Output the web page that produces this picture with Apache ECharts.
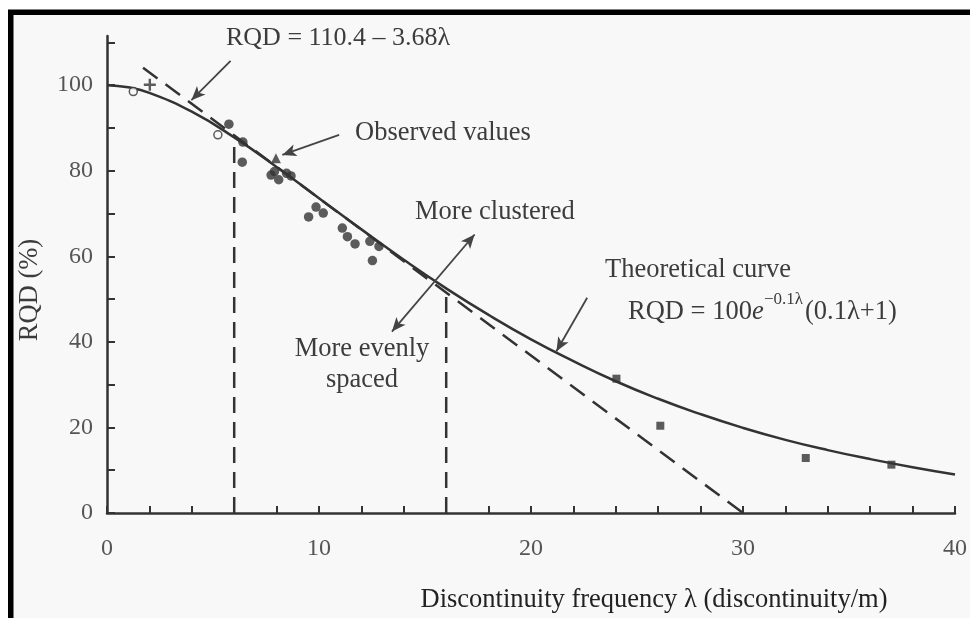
<!DOCTYPE html>
<html>
<head>
<meta charset="utf-8">
<script src="https://cdn.jsdelivr.net/npm/echarts@6/dist/echarts.min.js"></script>
<style>
  html, body { margin: 0; padding: 0; background: #fff; }
  #chart { width: 970px; height: 618px; }
</style>
</head>
<body>
<div id="chart"></div>
<script>
// Theoretical curve, sampled along λ
const curveLambda = [0, 1, 2, 4, 6, 8, 10, 12, 14, 16, 18, 20, 22, 24, 26, 28, 30, 32, 34, 36, 38, 40];
const curveRQD = [100, 99.5, 98.2, 93.8, 87.8, 80.9, 73.6, 66.3, 59.2, 52.5, 46.3, 40.6, 35.5, 30.8, 26.7, 23.1, 19.9, 17.1, 14.7, 12.6, 10.7, 9.0];

// Linear fit RQD = 110.4 - 3.68λ, end points
const fitLambda = [1.7, 30];
const fitRQD = [104.1, 0];

// Vertical dividers between spacing regimes
const dividerLambda = [6, 16];
const dividerTop = [87.8, 52.5];

// Observed values
const openLambda = [1.24, 5.23];
const openRQD = [98.5, 88.4];
const plusLambda = [2.02];
const plusRQD = [100.1];
const triLambda = [7.97];
const triRQD = [82.9];
const dotLambda = [5.75, 6.41, 6.38, 7.9, 8.1, 8.47, 8.68, 7.74, 9.86, 10.2, 9.51, 11.1, 11.34, 11.7, 12.4, 12.83, 12.52];
const dotRQD = [90.9, 86.7, 82.0, 79.8, 77.9, 79.4, 78.8, 79.0, 71.5, 70.1, 69.2, 66.6, 64.6, 62.9, 63.5, 62.3, 59.0];
const squareLambda = [24.03, 26.1, 32.96, 37.0];
const squareRQD = [31.4, 20.4, 12.85, 11.3];

// Axis ticks and labels
const xLabelValues = [0, 10, 20, 30, 40];
const xTickValues = [0, 2, 4, 6, 8, 10, 12, 14, 16, 18, 20, 22, 24, 26, 28, 30, 32, 34, 36, 38, 40];
const yLabelValues = [0, 20, 40, 60, 80, 100];
const yTickValues = [0, 10, 20, 30, 40, 50, 60, 70, 80, 90, 100, 110];

const zip = (xs, ys) => xs.map((x, i) => [x, ys[i]]);

const SERIF = '"Liberation Serif", "DejaVu Serif", serif';
const INK = '#333';
const TEXT = '#3c3c3c';
const FONT = '26.5px ' + SERIF;

const chart = echarts.init(document.getElementById('chart'), null, { renderer: 'canvas' });

const arrowStyle = { color: '#444', width: 1.8, type: 'solid' };

function label(x, y, text, extra, rotation) {
  return {
    type: 'text', x: x, y: y, rotation: rotation || 0, silent: true,
    style: Object.assign({ text: text, font: FONT, fill: TEXT, textVerticalAlign: 'middle' }, extra || {})
  };
}

chart.setOption({
  animation: false,
  backgroundColor: '#fff',
  grid: { left: 107, right: 12, top: 36, bottom: 105 },
  xAxis: {
    type: 'value', min: 0, max: 40,
    axisLine: { lineStyle: { color: INK, width: 2.5 } },
    axisTick: { inside: true, length: 7, customValues: xTickValues, lineStyle: { color: INK, width: 2 } },
    axisLabel: { customValues: xLabelValues, margin: 24, fontFamily: SERIF, fontSize: 24, color: '#555' },
    splitLine: { show: false }
  },
  yAxis: {
    type: 'value', min: 0, max: 111.5,
    axisLine: { show: true, lineStyle: { color: INK, width: 2.5 } },
    axisTick: { show: true, inside: true, length: 8, customValues: yTickValues, lineStyle: { color: INK, width: 2 } },
    axisLabel: { customValues: yLabelValues, margin: 14, fontFamily: SERIF, fontSize: 24, color: '#555' },
    splitLine: { show: false }
  },
  series: [
    {
      name: 'Theoretical curve', type: 'line', smooth: true, showSymbol: false,
      data: zip(curveLambda, curveRQD),
      lineStyle: { color: INK, width: 2.5 },
      z: 3,
      markLine: {
        silent: true, symbol: ['none', 'arrow'], symbolSize: [9, 14],
        lineStyle: arrowStyle, label: { show: false },
        data: [
          [{ coord: [5.83, 105.7] }, { coord: [3.98, 96.5] }],
          [{ coord: [10.95, 88.4] }, { coord: [8.27, 83.7] }],
          [{ coord: [13.44, 42.4], symbol: 'arrow' }, { coord: [17.34, 65.1], symbol: 'arrow' }],
          [{ coord: [22.65, 50.3] }, { coord: [21.2, 37.8] }]
        ]
      }
    },
    {
      name: 'Linear fit', type: 'line', showSymbol: false,
      data: zip(fitLambda, fitRQD),
      lineStyle: { color: INK, width: 2.5, type: [18, 10] }
    },
    {
      name: 'Divider 1', type: 'line', showSymbol: false,
      data: [[dividerLambda[0], 0], [dividerLambda[0], dividerTop[0]]],
      lineStyle: { color: INK, width: 2.5, type: [16, 9] }
    },
    {
      name: 'Divider 2', type: 'line', showSymbol: false,
      data: [[dividerLambda[1], 0], [dividerLambda[1], dividerTop[1]]],
      lineStyle: { color: INK, width: 2.5, type: [16, 9] }
    },
    {
      name: 'Observed (open)', type: 'scatter', symbol: 'circle', symbolSize: 8,
      data: zip(openLambda, openRQD),
      itemStyle: { color: '#f8f8f8', borderColor: INK, borderWidth: 1.5 }, z: 5
    },
    {
      name: 'Observed (plus)', type: 'scatter',
      symbol: 'path://M4,0h2v4h4v2h-4v4h-2v-4h-4v-2h4z', symbolSize: 12,
      data: zip(plusLambda, plusRQD),
      itemStyle: { color: INK }, z: 5
    },
    {
      name: 'Observed (triangle)', type: 'scatter', symbol: 'triangle', symbolSize: 10,
      data: zip(triLambda, triRQD),
      itemStyle: { color: INK }, z: 5
    },
    {
      name: 'Observed (dots)', type: 'scatter', symbol: 'circle', symbolSize: 9.5,
      data: zip(dotLambda, dotRQD),
      itemStyle: { color: INK }, z: 5
    },
    {
      name: 'Observed (squares)', type: 'scatter', symbol: 'rect', symbolSize: 8,
      data: zip(squareLambda, squareRQD),
      itemStyle: { color: INK }, z: 5
    }
  ],
  graphic: [
    {
      type: 'rect', z: -10, silent: true,
      shape: { x: 10.75, y: 12.2, width: 1000, height: 700 },
      style: { fill: '#f8f8f8', stroke: '#000', lineWidth: 5.5 }
    },
    label(226, 38, 'RQD = 110.4 – 3.68λ', { font: '26px ' + SERIF }),
    label(355, 133, 'Observed values'),
    label(415, 212, 'More clustered'),
    label(362, 365, 'More evenly\nspaced', { textAlign: 'center', lineHeight: 31 }),
    label(605, 270, 'Theoretical curve'),
    // RQD = 100e^(−0.1λ)(0.1λ + 1)
    label(628, 312, 'RQD = 100'),
    label(752, 312, 'e', { font: 'italic 26.5px ' + SERIF }),
    label(764, 300, '−0.1λ', { font: '17px ' + SERIF }),
    label(805, 312, '(0.1λ+1)'),
    label(30, 290, 'RQD (%)', { textAlign: 'center' }, Math.PI / 2),
    label(654, 600, 'Discontinuity frequency λ (discontinuity/m)', { fill: '#222', textAlign: 'center' })
  ]
});
</script>
</body>
</html>
